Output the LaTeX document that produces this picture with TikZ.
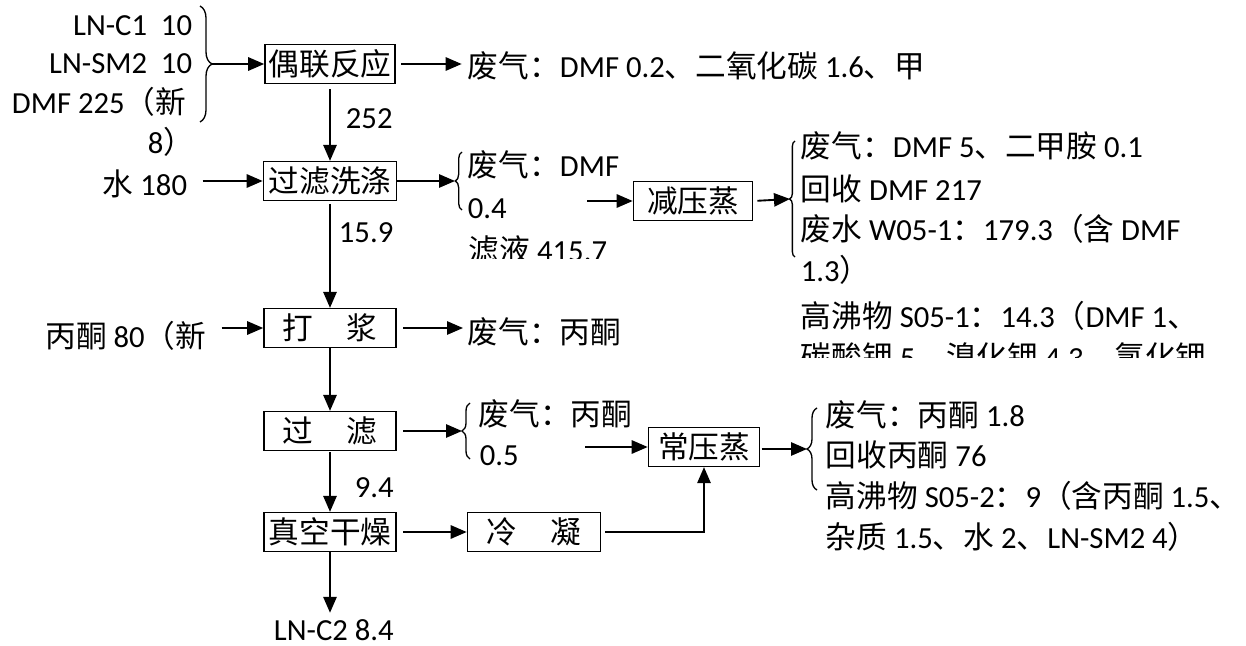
\documentclass[tikz,border=0pt]{standalone}
\usepackage{fontspec}
\setmainfont{Carlito}
\newfontfamily\cjk{Noto Sans CJK SC}
\usepackage{tikz}
\usetikzlibrary{arrows.meta,decorations.pathreplacing}
\newcommand\zh[1]{{\cjk #1}}

\begin{document}
\begin{tikzpicture}[x=0.75pt, y=-0.75pt, line width=1.4pt, >={Triangle[length=12pt,width=10pt]},
    every node/.style={font=\fontsize{23}{28}\selectfont},
    box/.style={draw, line width=1.2pt, inner sep=0pt, minimum height=29pt},
    txt/.style={inner sep=0pt, anchor=base west},
    rtxt/.style={inner sep=0pt, anchor=base east},
    curly/.style={decorate, line width=1pt, decoration={brace, amplitude=#1}}]
    \useasboundingbox (0,0) rectangle (1246,646);
    \def\c{330}
    % Process boxes
    \node[box, minimum width=97.5pt] (coupling) at (\c,64) {\zh{偶联反应}};
    \node[box, minimum width=99.75pt] (wash) at (\c,181) {\zh{过滤洗涤}};
    \node[box, minimum width=99pt] (slurry) at (\c,328) {\zh{打\hspace{1.1em}浆}};
    \node[box, minimum width=99pt] (filt) at (\c,431) {\zh{过\hspace{1.1em}滤}};
    \node[box, minimum width=99pt] (dry) at (\c,532) {\zh{真空干燥}};
    \node[box, minimum width=99.75pt] (cond) at (534,532) {\zh{冷\hspace{1.1em}凝}};
    \node[box, minimum width=89.25pt] (vac) at (693,201) {\zh{减压蒸}};
    \node[box, minimum width=83.25pt] (atm) at (704,447) {\zh{常压蒸}};

    % Feed
    \node[rtxt] (c1) at (193,35) {LN-C1\ \ 10};
    \node[rtxt] (sm2) at (193,73) {LN-SM2\ \ 10};
    \node[rtxt] (dmf) at (187,113) {DMF 225\zh{（新}};
    \node[txt] (dmfend) at (147,153) {8\zh{）}};
    \draw[curly=9pt] (200,6) -- (200,122);
    \coordinate (feed) at (212,64);
    \draw[->] (feed) -- (coupling.west);
    \node[txt] (gas1) at (467,77) {\zh{废气：}DMF 0.2\zh{、二氧化碳 }1.6\zh{、甲}};
    \draw[->, shorten <=4pt, shorten >=4pt] (coupling.east) -- (coupling.east -| gas1.west);
    \node[txt] (q1) at (345,128) {252};
    \draw[->, shorten <=4pt] (coupling) -- (wash);

    % Washing
    \node[rtxt] (water) at (188,195) {\zh{水 }180};
    \draw[->, shorten <=11pt] (water.east |- wash) -- (wash.west);
    \draw[curly=5pt] (462,210) -- (462,152);
    \coordinate (washtip) at (455,181);
    \draw[->] (wash.east) -- (washtip);
    \node[txt] (gas2) at (467,176) {\zh{废气：}DMF};
    \node[txt] (gas2v) at (467,218) {0.4};
    \begin{scope}
      \clip (460,220) rectangle (660,258);
      \node[txt] (filtrate) at (468,261) {\zh{滤液 }415.7};
    \end{scope}
    \node[txt] (q2) at (338,242) {15.9};
    \draw[->, shorten <=2pt] (wash) -- (slurry);

    % Vacuum distillation
    \coordinate (vacin) at (587,201);
    \draw[->] (vacin) -- (vac.west);
    \draw[curly=4pt] (795,257) -- (795,141);
    \coordinate (vactip) at (790,199);
    \draw[->, shorten <=3pt] (vac.east) -- (vactip);
    \begin{scope}
      \clip (780,120) rectangle (1246,357);
      \node[txt] (vac1) at (800,157) {\zh{废气：}DMF 5\zh{、二甲胺 }0.1};
      \node[txt] (vac2) at (800,200) {\zh{回收 }DMF 217};
      \node[txt] (vac3) at (800,240) {\zh{废水 }W05-1\zh{：}179.3\zh{（含 }DMF};
      \node[txt] (vac4) at (800,281) {1.3\zh{）}};
      \node[txt] (vac5) at (800,327) {\zh{高沸物 }S05-1\zh{：}14.3\zh{（}DMF 1\zh{、}};
      \node[txt] (vac6) at (800,368) {\zh{碳酸钾 }5\zh{、溴化钾 }4.3\zh{、氯化钾}};
    \end{scope}

    % Slurry
    \node[rtxt] (acetone) at (207,347) {\zh{丙酮 }80\zh{（新}};
    \draw[->, shorten <=11pt] (acetone.east |- slurry) -- (slurry.west);
    \node[txt] (gas3) at (467,343) {\zh{废气：丙酮}};
    \draw[->, shorten <=5pt, shorten >=3pt] (slurry.east) -- (slurry.east -| gas3.west);
    \draw[->] (slurry) -- (filt);

    % Filtration
    \draw[curly=6pt] (470,459) -- (470,403);
    \coordinate (filttip) at (462,431);
    \draw[->, shorten <=5pt] (filt.east) -- (filttip);
    \node[txt] (gas4) at (478,425) {\zh{废气：丙酮}};
    \node[txt] (gas4v) at (479,465) {0.5};
    \node[txt] (q3) at (354,497) {9.4};
    \draw[->, shorten <=1pt] (filt) -- (dry);

    % Atmospheric distillation
    \coordinate (atmin) at (585,447);
    \draw[->] (atmin) -- (atm.west);
    \draw[curly=7.5pt] (817,490) -- (817,408);
    \coordinate (atmtip) at (807,449);
    \draw[->, shorten <=1pt] (atm.east |- atmtip) -- (atmtip);
    \node[txt] (atm1) at (825,426) {\zh{废气：丙酮 }1.8};
    \node[txt] (atm2) at (825,466) {\zh{回收丙酮 }76};
    \node[txt] (atm3) at (825,507) {\zh{高沸物 }S05-2\zh{：}9\zh{（含丙酮 }1.5\zh{、}};
    \node[txt] (atm4) at (825,548) {\zh{杂质 }1.5\zh{、水 }2\zh{、}LN-SM2 4\zh{）}};

    % Drying and condensing
    \draw[->, shorten <=5pt] (dry) -- (cond);
    \draw[->, shorten <=3pt] (cond.east) -| (atm.south);
    \node[txt] (product) at (273,640) {LN-C2 8.4};
    \draw[->, shorten >=4pt] (dry.south) -- (dry.south |- product.north);
\end{tikzpicture}
\end{document}
